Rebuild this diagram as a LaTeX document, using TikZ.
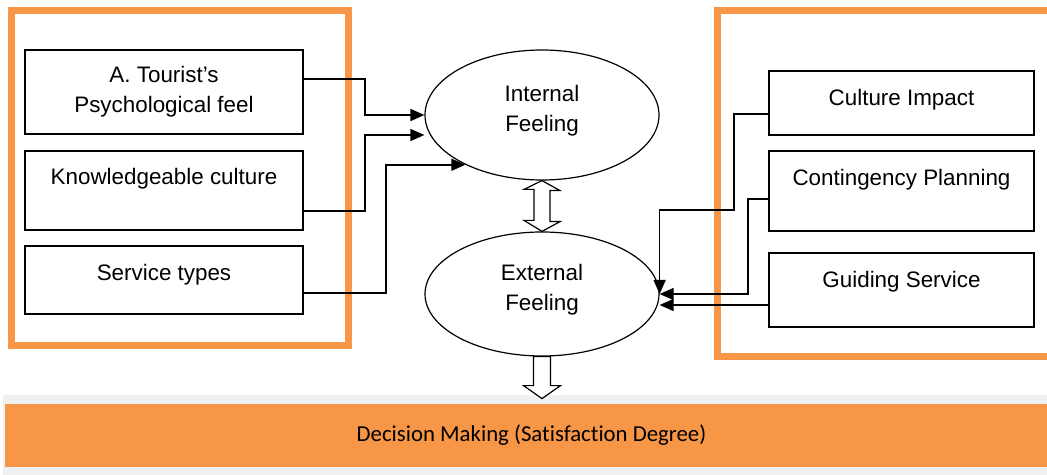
\documentclass[tikz,border=0pt]{standalone}
\usepackage{fontspec}
\setmainfont{Liberation Sans}
\newfontfamily\calfont[Ligatures=NoCommon]{Carlito}
\usepackage{tikz}
\usetikzlibrary{shapes,arrows.meta,positioning,calc}

\definecolor{accent}{HTML}{F79646}
\definecolor{panel}{HTML}{F0F0F0}
\newcommand{\lift}[2]{\raisebox{#1}[0pt][0pt]{#2}}

\tikzset{
  factor/.style={draw, line width=1pt, inner sep=0pt, align=center,
    font=\fontsize{11.2}{15}\selectfont},
  feeling/.style={ellipse, draw, line width=0.6pt, inner sep=0pt, text depth=7pt,
    minimum width=117pt, align=center, font=\fontsize{11.2}{15}\selectfont},
  frame/.style={draw=accent, line width=3.5pt},
  arr/.style={-{Triangle[length=7pt,width=6pt]}, line width=0.8pt},
  bigarrow/.style={draw, fill=white, line width=0.6pt}
}

\begin{document}
\begin{tikzpicture}[x=0.5pt, y=-0.5pt]
  \useasboundingbox (0,0) rectangle (1047,475);
  % orange frames
  \draw[frame] (11,11) rectangle (348,345);
  \draw[frame] (717.5,10.5) rectangle (1065,356);
  % left factors
  \node[factor, minimum width=139pt, minimum height=42pt] (tour) at (164,92) {A. Tourist's\\Psychological feel};
  \node[factor, minimum width=139pt, minimum height=39.5pt] (know) at (164,190.5) {\lift{2.75pt}{Knowledgeable culture}};
  \node[factor, minimum width=139pt, minimum height=34pt] (serv) at (164,280) {\lift{0pt}{Service types}};
  % right factors
  \node[factor, minimum width=132.5pt, minimum height=32pt] (ci) at (901.5,103) {\lift{-1.5pt}{Culture Impact}};
  \node[factor, minimum width=132.5pt, minimum height=40pt] (cp) at (901.5,191) {\lift{2.5pt}{Contingency Planning}};
  \node[factor, minimum width=132.5pt, minimum height=37pt] (gs) at (901.5,290) {\lift{1.5pt}{Guiding Service}};
  % feelings
  \node[feeling, minimum height=65pt] (intern) at (542,115) {Internal\\Feeling};
  \node[feeling, minimum height=62pt] (extern) at (542,294) {External\\Feeling};
  % decision bar
  \fill[panel] (3,395) rectangle (1060,475);
  \node[fill=accent, minimum width=526.5pt, minimum height=31.5pt, inner sep=0pt,
    font=\calfont\fontsize{11.4}{14}\selectfont] (dec) at (531.5,435.5) {Decision Making (Satisfaction Degree)};
  % connectors
  \draw[arr] ([yshift=6.5pt]tour.east) -- ++(61,0) |- (intern.west);
  \draw[arr] ([yshift=-10.25pt]know.east) -- ++(61,0) |- ([yshift=-10pt]intern.west);
  \draw[arr] ([yshift=-6.5pt]serv.east) -- ++(82,0) |- (intern.213);
  \draw[arr] ([yshift=-5.5pt]ci.west) -- ++(-34,0) -- ++(0,96) -| (extern.east);
  \draw[arr] ([yshift=-4pt]cp.west) -- ++(-20,0) |- (extern.east);
  \draw[arr] ([yshift=-7.5pt]gs.west) -- ([yshift=-7.5pt]gs.west -| extern.east);
  % hollow arrows
  \draw[bigarrow] (intern.south) -- ++(18,10) -- ++(-10,0) -- ++(0,31) -- ++(10,0)
    -- (extern.north) -- ++(-18,-11) -- ++(10,0) -- ++(0,-31) -- ++(-10,0) -- cycle;
  \draw[bigarrow] ([xshift=-4.25pt]extern.south) -- ++(0,29) -- ++(-10,0) -- ++(18.5,13)
    -- ++(18.5,-13) -- ++(-10,0) -- ++(0,-29) -- cycle;
\end{tikzpicture}
\end{document}
